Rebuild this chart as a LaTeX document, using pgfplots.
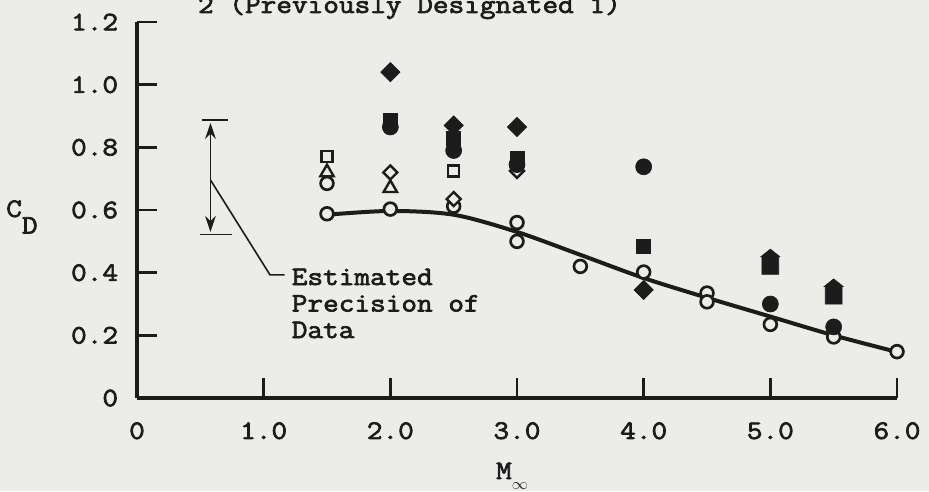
\documentclass[border=0pt]{standalone}
\usepackage{fontspec}
\setmainfont{Liberation Mono}
\newfontfamily\tyf{Latin Modern Mono}[FakeStretch=1.14, FakeBold=2.6]
\usepackage{pgfplots}
\pgfplotsset{compat=1.18}
\usetikzlibrary{arrows.meta,backgrounds}
\definecolor{bgcol}{RGB}{236,236,233}
\definecolor{ink}{RGB}{28,28,28}
\newcommand{\tf}{\fontsize{20}{20}\selectfont\tyf}

\pgfdeclareplotmark{house*}{%
  \pgfpathmoveto{\pgfqpoint{-\pgfplotmarksize}{-1.5\pgfplotmarksize}}%
  \pgfpathlineto{\pgfqpoint{\pgfplotmarksize}{-1.5\pgfplotmarksize}}%
  \pgfpathlineto{\pgfqpoint{\pgfplotmarksize}{0.6\pgfplotmarksize}}%
  \pgfpathlineto{\pgfqpoint{1.12\pgfplotmarksize}{0.6\pgfplotmarksize}}%
  \pgfpathlineto{\pgfqpoint{0pt}{1.5\pgfplotmarksize}}%
  \pgfpathlineto{\pgfqpoint{-1.12\pgfplotmarksize}{0.6\pgfplotmarksize}}%
  \pgfpathlineto{\pgfqpoint{-\pgfplotmarksize}{0.6\pgfplotmarksize}}%
  \pgfpathclose
  \pgfusepathqfillstroke
}

\pgfplotstableread{
x y
1.5 0.588
2.0 0.603
2.5 0.612
3.0 0.560
3.0 0.500
3.5 0.420
4.0 0.402
4.5 0.335
4.5 0.307
5.0 0.235
5.5 0.195
6.0 0.148
1.5 0.685
}\opencircle

\pgfplotstableread{
x y
1.5 0.585
2.0 0.597
2.5 0.585
3.0 0.530
3.5 0.457
4.0 0.383
4.5 0.320
5.0 0.260
5.5 0.200
6.0 0.147
}\fairing

\begin{document}
\begin{tikzpicture}[show background rectangle, inner frame sep=0pt,
  background rectangle/.style={fill=bgcol, draw=none}]
\begin{axis}[
  x=95pt, y=235pt,
  xmin=0, xmax=6, ymin=0, ymax=1.2,
  axis x line*=bottom, axis y line*=left,
  axis line style={line width=3pt, -, ink},
  every tick/.style={line width=2pt, ink},
  major tick length=15pt,
  tick align=inside,
  xtick={0,1,2,3,4,5,6},
  xticklabels={0,1.0,2.0,3.0,4.0,5.0,6.0},
  ytick={0,0.2,0.4,0.6,0.8,1.0,1.2},
  yticklabels={0,0.2,0.4,0.6,0.8,1.0,1.2},
  /pgf/number format/assume math mode=true,
  tick label style={font=\tf, text=ink},
  xticklabel style={anchor=north, inner sep=0pt, yshift=-18pt},
  yticklabel style={anchor=east, inner sep=0pt, xshift=-14pt},
  clip=false,
]
% fairing curve
\addplot[smooth, line width=3pt, ink] table {\fairing};
% open circles
\addplot[only marks, mark=*, mark size=4.8pt,
  mark options={fill=bgcol, draw=ink, line width=2pt}] table {\opencircle};
% open triangles
\addplot[only marks, mark=triangle*, mark size=5.8pt,
  mark options={fill=bgcol, draw=ink, line width=1.8pt}] coordinates {(1.5,0.720) (2.0,0.670)};
% open diamonds
\addplot[only marks, mark=square*, mark size=3.7pt,
  mark options={rotate=45, fill=bgcol, draw=ink, line width=1.8pt}] coordinates {(2.0,0.720) (2.5,0.635) (3.0,0.725)};
% open squares
\addplot[only marks, mark=square*, mark size=4.1pt,
  mark options={fill=bgcol, draw=ink, line width=1.8pt}] coordinates {(1.5,0.770) (2.5,0.725)};
% filled circles
\addplot[only marks, mark=*, mark size=6pt,
  mark options={fill=ink, draw=ink, line width=0.5pt}] coordinates {(2.0,0.865) (2.5,0.790) (3.0,0.745) (4.0,0.738) (5.0,0.300) (5.5,0.227)};
% filled squares
\addplot[only marks, mark=square*, mark size=5.3pt,
  mark options={fill=ink, draw=ink, line width=0.5pt}] coordinates {(2.0,0.885) (2.5,0.830) (3.0,0.765) (4.0,0.483)};
% filled diamonds
\addplot[only marks, mark=square*, mark size=5.1pt,
  mark options={rotate=45, fill=ink, draw=ink, line width=0.5pt}] coordinates {(2.0,1.040) (2.5,0.870) (3.0,0.865) (4.0,0.345)};
% filled arrows
\addplot[only marks, mark=house*, mark size=6.3pt,
  mark options={fill=ink, draw=ink, line width=0.5pt}] coordinates {(5.0,0.435) (5.5,0.340)};

% precision annotation
\draw[line width=1.2pt, ink] (axis cs:0.51,0.888) -- (axis cs:0.72,0.888);
\draw[line width=1.2pt, ink] (axis cs:0.50,0.522) -- (axis cs:0.75,0.522);
\draw[line width=1.2pt, ink, -{Stealth[length=12pt,width=8pt]}] (axis cs:0.58,0.70) -- (axis cs:0.58,0.878);
\draw[line width=1.2pt, ink, -{Stealth[length=12pt,width=8pt]}] (axis cs:0.58,0.70) -- (axis cs:0.58,0.530);
\draw[line width=1.2pt, ink] (axis cs:0.58,0.696) -- (axis cs:1.05,0.393) -- (axis cs:1.165,0.393);
\node[anchor=base west, inner sep=0pt, font=\tf, text=ink] at (axis cs:1.22,0.3607) {Estimated};
\node[anchor=base west, inner sep=0pt, font=\tf, text=ink] at (axis cs:1.22,0.276) {Precision of};
\node[anchor=base west, inner sep=0pt, font=\tf, text=ink] at (axis cs:1.22,0.1915) {Data};

% title and axis labels
\node[anchor=base west, inner sep=0pt, font=\tf, text=ink] at (axis cs:0.48,1.229) {2 (Previously Designated 1)};
\node[anchor=base west, inner sep=0pt, font=\tf, text=ink] at (axis cs:-1.034,0.578) {C\raisebox{-12.5pt}{D}};
\node[anchor=base, inner sep=0pt, font=\tf, text=ink] at (axis cs:2.96,-0.2585) {M\raisebox{-7.5pt}{\fontsize{12}{12}\selectfont$\infty$}};

\coordinate (bbsw) at (axis cs:-1.0816,-0.2968);
\coordinate (bbne) at (axis cs:6.2526,1.2703);
\end{axis}
\pgfresetboundingbox
\useasboundingbox (bbsw) rectangle (bbne);
\end{tikzpicture}
\end{document}
